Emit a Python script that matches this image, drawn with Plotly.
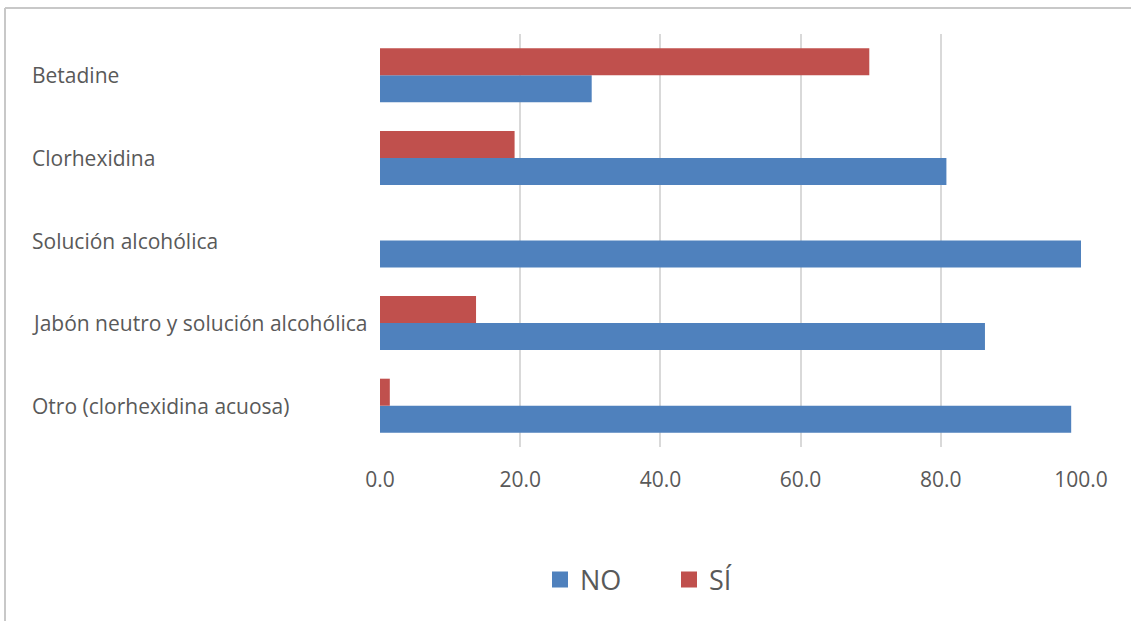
import plotly.graph_objects as go

categories = ["Betadine", "Clorhexidina", "Solución alcohólica",
              "Jabón neutro y solución alcohólica", "Otro (clorhexidina acuosa)"]
no_values = [30.2, 80.8, 100.0, 86.3, 98.6]
si_values = [69.8, 19.2, 0.0, 13.7, 1.4]
x_ticks = [0, 20, 40, 60, 80, 100]
series_names = ["NO", "SÍ"]
series_colors = ["#4F81BD", "#C0504D"]

W, H = 1131, 621
L, R, T, B = 380, 50, 34, 174
pw, ph = W - L - R, H - T - B

def px_x(p):
    return (p - L) / pw

def px_y(p):
    return (H - B - p) / ph

order = categories[::-1]
grey = "#595959"
font = "Open Sans"

fig = go.Figure()
for name, vals, col in zip(series_names, [no_values, si_values], series_colors):
    fig.add_trace(go.Bar(y=categories, x=vals, name=name, orientation="h",
                         marker=dict(color=col, line=dict(width=0)),
                         showlegend=False))
for name, col in zip(series_names, series_colors):
    fig.add_trace(go.Scatter(x=[None], y=[None], mode="markers", name=name,
                             marker=dict(symbol="square", size=16, color=col)))

for c in categories:
    fig.add_annotation(x=px_x(30), xref="paper", y=c, yref="y", text=c,
                       showarrow=False, xanchor="left", yanchor="middle",
                       font=dict(family=font, size=21, color=grey))

line_col = "#C8C8C8"
fig.add_shape(type="line", xref="paper", yref="paper",
              x0=px_x(5), x1=px_x(W), y0=px_y(8), y1=px_y(8),
              line=dict(color=line_col, width=2))
fig.add_shape(type="line", xref="paper", yref="paper",
              x0=px_x(5), x1=px_x(5), y0=px_y(8), y1=px_y(H),
              line=dict(color=line_col, width=2))

fig.update_layout(
    width=W, height=H,
    margin=dict(l=L, r=R, t=T, b=B, pad=0),
    paper_bgcolor="white", plot_bgcolor="white",
    barmode="group", bargap=0.346, bargroupgap=0,
    showlegend=True,
    legend=dict(orientation="h", x=px_x(540), xanchor="left",
                y=px_y(580), yanchor="middle",
                font=dict(family=font, size=27, color=grey),
                itemwidth=30, tracegroupgap=0,
                entrywidth=84, entrywidthmode="pixels"),
    xaxis=dict(range=[0, 100], tickvals=x_ticks,
               ticktext=[f"{v:.1f}" for v in x_ticks],
               showgrid=True, gridcolor="#D9D9D9", gridwidth=2,
               zeroline=False, showline=False, ticks="",
               ticklabelstandoff=18,
               tickfont=dict(family=font, size=21, color=grey)),
    yaxis=dict(categoryorder="array", categoryarray=order,
               showticklabels=False, showgrid=False, zeroline=False,
               showline=False, ticks=""),
)

fig.write_html("out.html")
